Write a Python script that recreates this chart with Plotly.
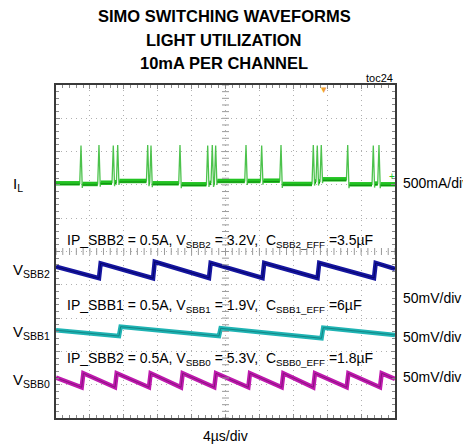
import numpy as np
import plotly.graph_objects as go

# ---------------- data ----------------
T_END_US = 40.0  # 10 div x 4 us/div

# Inductor current I_L (mA): spike times, spike peaks, baseline level before/after each spike
IL_SPIKE_US = [2.95, 5.07, 6.76, 7.28, 10.82, 11.21, 14.63, 17.90, 18.44, 18.84,
               22.42, 24.27, 26.55, 30.36, 30.83, 31.30, 34.42, 37.44, 38.11]
IL_PEAK_MA = [590, 600, 590, 600, 600, 590, 600, 590, 600, 590,
              600, 590, 600, 600, 590, 600, 600, 590, 600]
IL_BASE_MA = [24, 14, 33, 40, 59, 40, 24, 9, 30, 30,
              59, 59, 63, 14, 50, 50, 84, 9, 20, 9]

# V_SBB2 ripple (mV, AC)
SBB2_JUMP_US = [5.07, 11.45, 18.05, 24.37, 30.86, 37.52]
SBB2_BEFORE_MV = [-11.7, -11.7, -11.3, -11.3, -11.3, -11.3]
SBB2_AFTER_MV = [10.8, 13.1, 11.3, 11.3, 11.3, 11.3]
SBB2_START_MV, SBB2_END_MV = 5.7, 2.3

# V_SBB1 ripple (mV, AC)
SBB1_JUMP_US = [7.43, 19.23, 31.33]
SBB1_BEFORE_MV = [-5.6, -5.6, -9.0]
SBB1_AFTER_MV = [8.4, 6.0, 6.9]
SBB1_START_MV, SBB1_END_MV = 3.1, -4.0

# V_SBB0 ripple (mV, AC)
SBB0_JUMP_US = [3.03, 6.96, 10.97, 14.75, 18.68, 22.69, 26.63, 30.36, 34.30, 38.23]
SBB0_BEFORE_MV = [-10.5] * 10
SBB0_AFTER_MV = [10.5] * 10
SBB0_START_MV, SBB0_END_MV = 4.0, 2.0

# ---------------- scope settings ----------------
IL_SCALE, IL_OFFSET = 500.0, 7.0        # mA/div, div position of the trace reference
V_SCALE = 50.0                           # mV/div
SBB2_OFFSET, SBB1_OFFSET, SBB0_OFFSET = 4.43, 2.574, 1.132

FONT = "Liberation Sans, Arial, sans-serif"
GREEN, BLUE, CYAN, MAGENTA = "#22c322", "#1616a0", "#1fb4b4", "#bf1aae"

PAGE_PAD = 8          # default body margin of the html page
W, H = 471 - PAGE_PAD, 444 - PAGE_PAD


def il_wave():
    t, v = [0.0], [IL_BASE_MA[0]]
    base_t, base_v = [0.0], [IL_BASE_MA[0]]
    for i, (ts, pk) in enumerate(zip(IL_SPIKE_US, IL_PEAK_MA)):
        b0, b1 = IL_BASE_MA[i], IL_BASE_MA[i + 1]
        t += [ts - 0.15, ts, ts + 0.15, ts + 0.2]
        v += [b0, pk, b1 - 60, b1]
        base_t += [ts - 0.15, None, ts + 0.2]
        base_v += [b0, None, b1]
    t.append(T_END_US); v.append(IL_BASE_MA[-1])
    base_t.append(T_END_US); base_v.append(IL_BASE_MA[-1])
    return t, v, base_t, base_v


def sawtooth(start, jumps, before, after, end, rise=0.2):
    t, v = [0.0], [start]
    for j, b, a in zip(jumps, before, after):
        t += [j, j + rise]
        v += [b, a]
    t.append(T_END_US); v.append(end)
    return np.array(t), np.array(v)


fig = go.Figure()

# I_L
t, v, bt, bv = il_wave()
y_il = [IL_OFFSET + x / IL_SCALE for x in v]
y_base = [None if x is None else IL_OFFSET + x / IL_SCALE for x in bv]
fig.add_trace(go.Scatter(x=t, y=y_il, mode="lines", line=dict(color="#4cc24c", width=1.3)))
fig.add_trace(go.Scatter(x=bt, y=y_base, mode="lines", line=dict(color=GREEN, width=4.5)))
fig.add_trace(go.Scatter(x=bt, y=[None if y is None else y - 0.03 for y in y_base], mode="lines",
                         line=dict(color="#118a11", width=1)))

# voltage ripples
for (start, jumps, before, after, end, off, col, dark) in [
    (SBB2_START_MV, SBB2_JUMP_US, SBB2_BEFORE_MV, SBB2_AFTER_MV, SBB2_END_MV, SBB2_OFFSET, BLUE, "#00005e"),
    (SBB1_START_MV, SBB1_JUMP_US, SBB1_BEFORE_MV, SBB1_AFTER_MV, SBB1_END_MV, SBB1_OFFSET, CYAN, "#127878"),
    (SBB0_START_MV, SBB0_JUMP_US, SBB0_BEFORE_MV, SBB0_AFTER_MV, SBB0_END_MV, SBB0_OFFSET, MAGENTA, "#7a1070"),
]:
    tt, vv = sawtooth(start, jumps, before, after, end)
    yy = off + vv / V_SCALE
    fig.add_trace(go.Scatter(x=tt, y=yy, mode="lines", line=dict(color=col, width=4.5)))
    fig.add_trace(go.Scatter(x=tt, y=yy, mode="lines", line=dict(color=dark, width=0.8)))

# centre crosshair tick marks
fig.add_trace(go.Scatter(x=[20] * 51, y=np.arange(0, 10.01, 0.2), mode="markers",
                         marker=dict(symbol="line-ew", size=5, line=dict(color="#9a9a9a", width=1))))
fig.add_trace(go.Scatter(x=np.arange(0, 40.01, 0.8), y=[5] * 51, mode="markers",
                         marker=dict(symbol="line-ns", size=5, line=dict(color="#9a9a9a", width=1))))

# ---------------- layout (positions given in reference-image pixels) ----------------
L, R, T, B = 56, 395, 85, 418


def px(xp, yp):
    return (xp - L) / (R - L), (B - yp) / (B - T)


annots = []


def note(text, xp, yp, size=14, xanchor="left", bold=False, color="black"):
    x, y = px(xp, yp)
    if bold:
        text = "<b>" + text + "</b>"
    annots.append(dict(text=text, x=x, y=y, xref="paper", yref="paper", xanchor=xanchor,
                       yanchor="middle", showarrow=False,
                       font=dict(family=FONT, size=size, color=color)))


note("SIMO SWITCHING WAVEFORMS", 224, 16, 16.5, "center", True)
note("LIGHT UTILIZATION", 224, 40, 16.5, "center", True)
note("10mA PER CHANNEL", 224, 63, 16.5, "center", True)
note("toc24", 395, 78, 11, "right")
note("I<sub>L</sub>", 11, 184, 15)
note("500mA/div", 401, 183, 14)
note("IP_SBB2 = 0.5A, V<sub>SBB2</sub> = 3.2V,  C<sub>SBB2_EFF</sub> =3.5µF", 65, 241, 14)
note("V<sub>SBB2</sub>", 11, 270, 15)
note("50mV/div", 401, 298, 14)
note("IP_SBB1 = 0.5A, V<sub>SBB1</sub> = 1.9V,  C<sub>SBB1_EFF</sub> =6µF", 65, 306, 14)
note("V<sub>SBB1</sub>", 11, 332, 15)
note("50mV/div", 401, 337, 14)
note("IP_SBB2 = 0.5A, V<sub>SBB0</sub> = 5.3V,  C<sub>SBB0_EFF</sub> =1.8µF", 65, 359, 14)
note("V<sub>SBB0</sub>", 11, 380, 15)
note("50mV/div", 401, 377, 14)
note("4µs/div", 225, 436, 14, "center")
note("▾", 324, 89, 11, "center", color="#f0a030")
note("+", 392, 176, 10, "center", color=GREEN)

axis_common = dict(showgrid=True, gridcolor="#b0b0b0", gridwidth=1, griddash="1px,4px",
                   showline=True, linecolor="#3a3a3a", linewidth=2, mirror="allticks",
                   ticks="inside", ticklen=4, tickcolor="#8a8a8a", showticklabels=False,
                   zeroline=False, fixedrange=True)

fig.update_layout(
    width=W, height=H, autosize=False,
    margin=dict(l=L - PAGE_PAD, r=471 - R, t=T - PAGE_PAD, b=444 - B),
    paper_bgcolor="white", plot_bgcolor="white",
    showlegend=False, hovermode=False,
    xaxis=dict(range=[0, T_END_US], dtick=4, tick0=0,
               minor=dict(ticks="inside", dtick=0.8, ticklen=3, tickcolor="#8a8a8a"),
               **axis_common),
    yaxis=dict(range=[0, 10], dtick=1, tick0=0,
               minor=dict(ticks="inside", dtick=0.2, ticklen=3, tickcolor="#8a8a8a"),
               **axis_common),
    annotations=annots,
)

fig.write_html("out.html")
